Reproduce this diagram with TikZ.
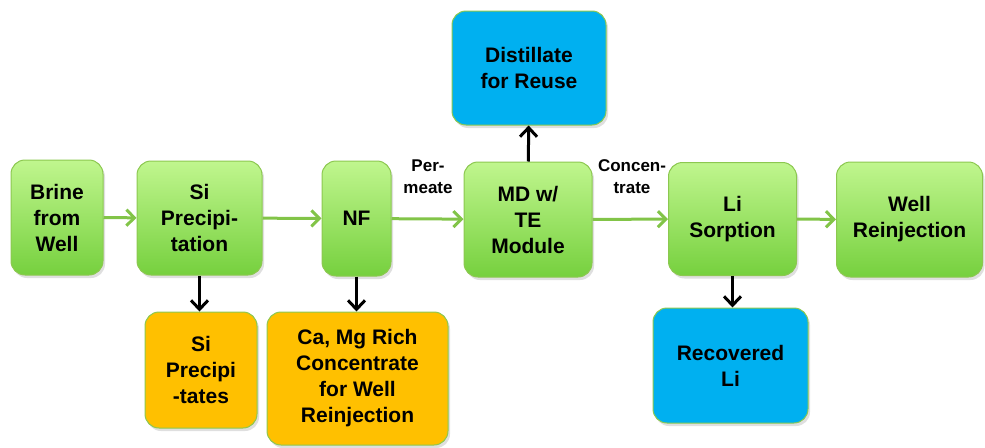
\documentclass[tikz,border=0pt]{standalone}
\usepackage{fontspec}
\setmainfont{Liberation Sans}
\usetikzlibrary{arrows.meta,shadows}
\definecolor{gtop}{RGB}{192,246,142}
\definecolor{gbot}{RGB}{118,208,62}
\definecolor{gborder}{RGB}{140,200,80}
\definecolor{garrowc}{RGB}{130,196,72}
\definecolor{bluefill}{RGB}{0,176,240}
\definecolor{orangefill}{RGB}{255,192,0}
\tikzset{
  x=1pt, y=-1pt,
  boxbase/.style={rounded corners=14pt, draw=gborder, line width=1pt, align=center,
    font=\fontsize{21}{26}\selectfont\bfseries, inner sep=0pt,
    drop shadow={opacity=0.25, shadow xshift=2pt, shadow yshift=-3pt}},
  gbox/.style={boxbase, top color=gtop, bottom color=gbot},
  bbox/.style={boxbase, fill=bluefill},
  obox/.style={boxbase, fill=orangefill},
  lbl/.style={font=\fontsize{17}{22}\selectfont\bfseries, align=center, inner sep=0pt},
  garrow/.style={draw=garrowc, line width=3pt, -{Straight Barb[length=8pt,width=16pt,line width=3pt]}},
  karrow/.style={draw=black, line width=3pt, -{Straight Barb[length=9pt,width=17pt,line width=3pt]}},
}
\begin{document}
\begin{tikzpicture}
\useasboundingbox (0,0) rectangle (985,447);
\node[gbox, minimum width=92pt, minimum height=115pt] (brine) at (57,217.5) {Brine\\from\\Well};
\node[gbox, minimum width=125pt, minimum height=114pt] (si) at (199.5,218) {Si\\Precipi-\\tation};
\node[gbox, minimum width=69pt, minimum height=115pt] (nf) at (356.5,218.5) {NF};
\node[gbox, minimum width=128pt, minimum height=115pt] (md) at (528,219.5) {MD w/\\TE\\Module};
\node[bbox, minimum width=154pt, minimum height=114pt] (dist) at (529,68) {Distillate\\for Reuse};
\node[gbox, minimum width=128pt, minimum height=113pt] (li) at (732.5,219) {Li\\Sorption};
\node[gbox, minimum width=146pt, minimum height=115pt] (well) at (909.5,219.5) {Well\\Reinjection};
\node[obox, minimum width=112pt, minimum height=116pt] (sip) at (201,370) {Si\\Precipi\\-tates};
\node[obox, minimum width=181pt, minimum height=133pt] (ca) at (357.5,378.5) {Ca, Mg Rich\\Concentrate\\for Well\\Reinjection};
\node[bbox, minimum width=155pt, minimum height=115pt] (rec) at (730.5,365.5) {Recovered\\Li};
\node[lbl] (perm) at (428,177) {Per-\\meate};
\node[lbl] (conc) at (632,177) {Concen-\\trate};
\draw[garrow] (brine) -- (si);
\draw[garrow] (si) -- (nf);
\draw[garrow] (nf) -- (md);
\draw[garrow] (md) -- (li);
\draw[garrow] (li) -- (well);
\draw[karrow] (md) -- (dist);
\draw[karrow] (si.south) -- (si.south |- sip.north);
\draw[karrow] (nf.south) -- (nf.south |- ca.north);
\draw[karrow] (li.south) -- (li.south |- rec.north);
\end{tikzpicture}
\end{document}
